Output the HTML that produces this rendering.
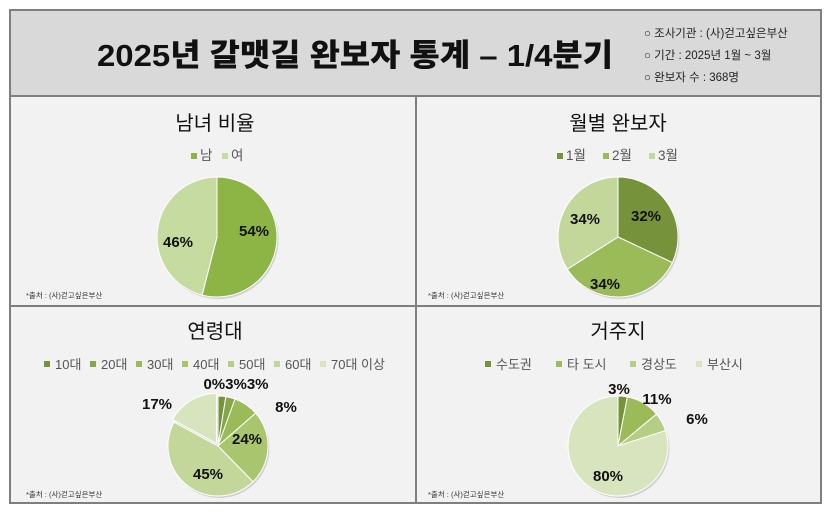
<!DOCTYPE html>
<html><head><meta charset="utf-8"><style>
body{margin:0;background:#fff;width:835px;height:522px;overflow:hidden;font-family:"Liberation Sans","Noto Sans CJK KR",sans-serif}
svg text{font-family:"Liberation Sans","Noto Sans CJK KR",sans-serif}
</style></head><body>
<svg id="s" width="835" height="522" xmlns="http://www.w3.org/2000/svg">
<rect x="10" y="10" width="811" height="493" fill="#f2f2f2" stroke="#7f7f7f" stroke-width="2"/>
<rect x="10" y="10" width="811" height="86" fill="#d9d9d9" stroke="#7f7f7f" stroke-width="2"/>
<text x="97" y="66" font-size="31" font-weight="900" textLength="516" lengthAdjust="spacingAndGlyphs" fill="#111">2025년 갈맷길 완보자 통계 – 1/4분기</text>
<g font-size="11.5" fill="#222">
<text x="644" y="37">○ 조사기관 : (사)걷고싶은부산</text>
<text x="644" y="59">○ 기간 : 2025년 1월 ~ 3월</text>
<text x="644" y="81">○ 완보자 수 : 368명</text>
</g>
<line x1="416" y1="96" x2="416" y2="503" stroke="#7f7f7f" stroke-width="2"/>
<line x1="10" y1="306" x2="821" y2="306" stroke="#7f7f7f" stroke-width="2"/>
<g font-size="20" text-anchor="middle" fill="#111">
<text x="215" y="130">남녀 비율</text><text x="618" y="130">월별 완보자</text>
<text x="215" y="338">연령대</text><text x="618" y="338">거주지</text>
</g>
<g font-size="7.5" fill="#333">
<text x="26" y="298">*출처 : (사)걷고싶은부산</text><text x="428" y="298">*출처 : (사)걷고싶은부산</text>
<text x="26" y="497">*출처 : (사)걷고싶은부산</text><text x="428" y="497">*출처 : (사)걷고싶은부산</text>
</g>
<g id="pies"></g>
<g font-size="13.5" fill="#555">
<rect x="191" y="153" width="6" height="6" fill="#8db545"/><text x="200" y="160">남</text>
<rect x="222" y="153" width="6" height="6" fill="#c5dba0"/><text x="231" y="160">여</text>
<rect x="557" y="153" width="6" height="6" fill="#76933c"/><text x="566" y="160">1월</text>
<rect x="603" y="153" width="6" height="6" fill="#9bbb59"/><text x="612" y="160">2월</text>
<rect x="649" y="153" width="6" height="6" fill="#c4d79b"/><text x="658" y="160">3월</text>
</g>
<g font-size="13" fill="#555">
<rect x="44" y="361" width="6" height="6" fill="#76933c"/><text x="55" y="369">10대</text>
<rect x="90" y="361" width="6" height="6" fill="#86a64a"/><text x="101" y="369">20대</text>
<rect x="136" y="361" width="6" height="6" fill="#9bbb59"/><text x="147" y="369">30대</text>
<rect x="182" y="361" width="6" height="6" fill="#a9c56e"/><text x="193" y="369">40대</text>
<rect x="228" y="361" width="6" height="6" fill="#b5cd85"/><text x="239" y="369">50대</text>
<rect x="274" y="361" width="6" height="6" fill="#c4d79b"/><text x="285" y="369">60대</text>
<rect x="320" y="361" width="6" height="6" fill="#d7e4bd"/><text x="331" y="369">70대 이상</text>
<rect x="485" y="361" width="6" height="6" fill="#76933c"/><text x="496" y="369">수도권</text>
<rect x="556" y="361" width="6" height="6" fill="#9bbb59"/><text x="567" y="369">타 도시</text>
<rect x="630" y="361" width="6" height="6" fill="#b5cd85"/><text x="641" y="369">경상도</text>
<rect x="696" y="361" width="6" height="6" fill="#d7e4bd"/><text x="707" y="369">부산시</text>
</g>
<g font-size="15" font-weight="bold" fill="#111" text-anchor="middle">
<text x="254" y="236">54%</text><text x="178" y="247">46%</text>
<text x="646" y="221">32%</text><text x="585" y="224">34%</text><text x="605" y="289">34%</text>
<text x="236" y="389">0%3%3%</text><text x="286" y="412">8%</text><text x="157" y="409">17%</text><text x="247" y="444">24%</text><text x="208" y="479">45%</text>
<text x="619" y="394">3%</text><text x="657" y="404">11%</text><text x="697" y="424">6%</text><text x="608" y="481">80%</text>
</g>
</svg>
<script>
function pie(cx,cy,r,vals,cols,explode){
 var g=document.getElementById('pies'),a=-Math.PI/2,tot=vals.reduce((x,y)=>x+y,0),h='';
 h+='<circle cx="'+(cx+1.5)+'" cy="'+(cy+2)+'" r="'+r+'" fill="#bbb" opacity="0.6"/>';
 vals.forEach(function(v,i){var b=a+v/tot*2*Math.PI,m=(a+b)/2,dx=0,dy=0;
  if(explode&&explode[i]){dx=Math.cos(m)*explode[i];dy=Math.sin(m)*explode[i];}
  var x=cx+dx,y=cy+dy;
  h+='<path d="M'+x+','+y+'L'+(x+r*Math.cos(a))+','+(y+r*Math.sin(a))+'A'+r+','+r+' 0 '+(b-a>Math.PI?1:0)+' 1 '+(x+r*Math.cos(b))+','+(y+r*Math.sin(b))+'Z" fill="'+cols[i]+'" stroke="#fff" stroke-width="1"/>';
  a=b;});
 g.innerHTML+=h;}
pie(217,237,60,[54,46],['#8db545','#c5dba0']);
pie(618,237,60,[32,34,34],['#76933c','#9bbb59','#c4d79b']);
pie(218,446,50,[2.5,3,8,24,45,17,0.01],['#76933c','#86a64a','#9bbb59','#a9c56e','#c4d79b','#d7e4bd','#e4edd2'],[0,0,0,0,0,3,0]);
pie(618,446,50,[3,11,6,80],['#76933c','#9bbb59','#b5cd85','#d7e4bd']);
</script>
</body></html>
